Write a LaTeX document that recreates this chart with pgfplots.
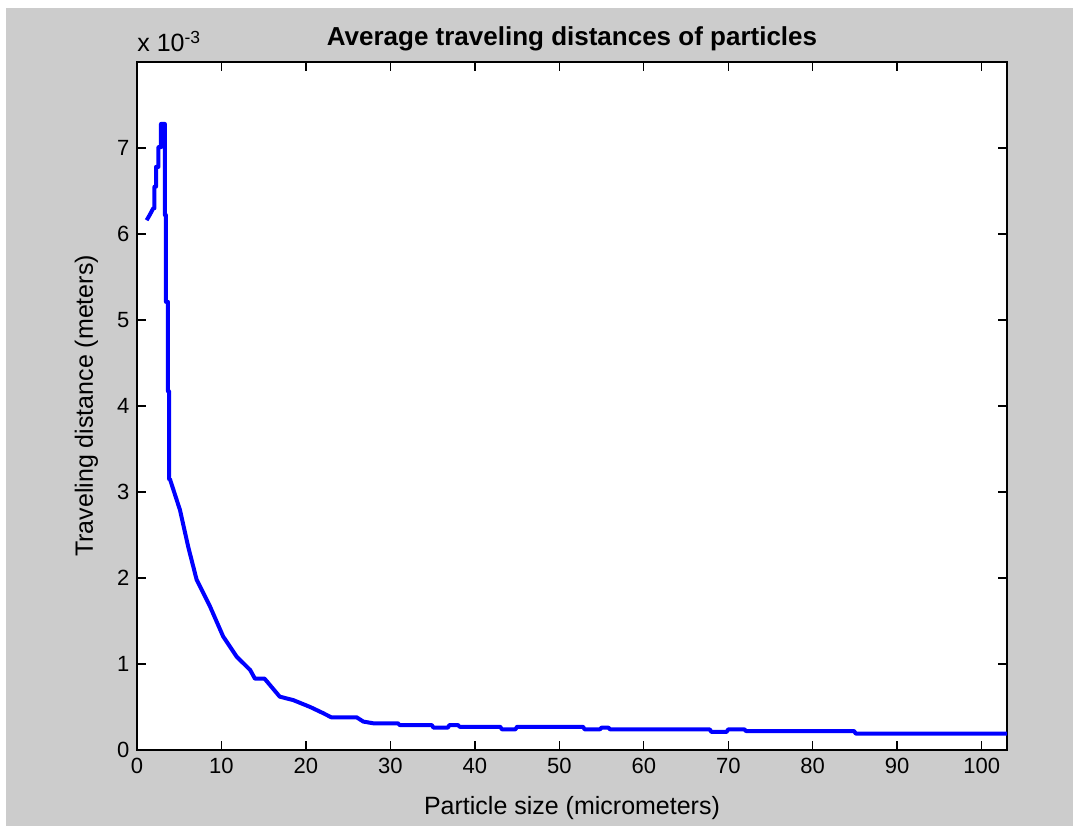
\documentclass[border=0pt]{standalone}
\usepackage{fontspec}
\setmainfont{Liberation Sans}
\usepackage{pgfplots}
\pgfplotsset{compat=1.18}
\definecolor{figgray}{RGB}{204,204,204}
\begin{document}
\fontsize{11}{13}\selectfont
\begin{tikzpicture}
  % figure background (MATLAB grey) with thin white border top/left
  \fill[white] (-68.5pt,-38pt) rectangle (468pt,375pt);
  \fill[figgray] (-65.5pt,-38pt) rectangle (468pt,371pt);
  \begin{axis}[
    scale only axis,
    width=435pt, height=344pt,
    at={(0pt,0pt)}, anchor=south west,
    axis background/.style={fill=white},
    axis line style={line width=0.8pt, black},
    font=\fontsize{11}{13}\selectfont,
    xmin=0, xmax=103,
    ymin=0, ymax=8,
    xtick={0,10,...,100},
    ytick={0,1,...,7},
    tick align=inside,
    major tick length=4.5pt,
    tick style={line width=0.7pt, black},
    /pgf/number format/assume math mode=true,
    scaled ticks=false,
    xlabel={Particle size (micrometers)},
    ylabel={Traveling distance (meters)},
    xlabel style={at={(axis description cs:0.5,-0.0945)}, anchor=base,
      font=\fontsize{12.5}{15}\selectfont},
    ylabel style={at={(axis description cs:-0.0506,0.5)}, anchor=base,
      font=\fontsize{12.5}{15}\selectfont},
    clip=true,
  ]
    \addplot[blue, line width=2pt, line join=round] coordinates {
      (1.14,6.16)(1.5,6.22)(1.93,6.30)(2.07,6.30)(2.07,6.55)(2.25,6.55)
      (2.25,6.78)(2.54,6.78)(2.54,7.01)(2.84,7.01)(2.84,7.28)(3.3,7.28)
      (3.3,6.22)(3.43,6.22)(3.43,5.21)(3.67,5.21)(3.67,4.17)(3.8,4.17)
      (3.8,3.15)(3.9,3.15)(5.09,2.79)(6.07,2.36)(7.06,1.98)(8.64,1.67)
      (10.2,1.32)(11.8,1.085)(13.4,0.93)(13.96,0.83)(15.1,0.83)(16.9,0.62)
      (18.5,0.58)(20.5,0.50)(22.0,0.43)(23.0,0.38)(26.0,0.38)(26.8,0.33)
      (28.0,0.31)(30.9,0.31)(31.1,0.29)(34.9,0.29)(35.1,0.26)(36.8,0.26)
      (37.0,0.29)(38.0,0.29)(38.2,0.27)(43.0,0.27)(43.2,0.24)(44.8,0.24)
      (45.0,0.27)(52.8,0.27)(53.0,0.24)(54.8,0.24)(55.0,0.26)(55.8,0.26)
      (56.0,0.24)(67.8,0.24)(68.0,0.21)(69.8,0.21)(70.0,0.24)(71.9,0.24)
      (72.1,0.22)(84.9,0.22)(85.1,0.19)(103,0.19)
    };
  \end{axis}
  \node[anchor=base, inner sep=0pt, font=\fontsize{13}{15}\selectfont\bfseries]
    at (217.5pt,352pt) {Average traveling distances of particles};
  \node[anchor=base west, inner sep=0pt, font=\fontsize{12.5}{15}\selectfont]
    at (0pt,349pt) {x 10\textsuperscript{-3}};
\end{tikzpicture}
\end{document}
